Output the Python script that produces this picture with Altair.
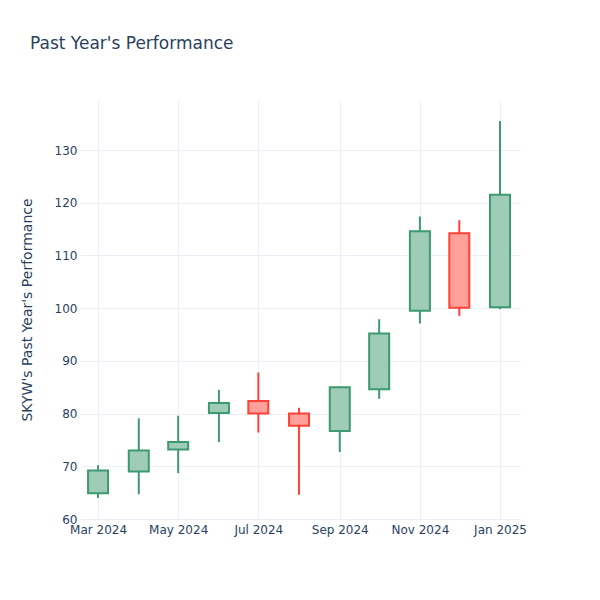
import altair as alt
import pandas as pd

dates = ["2024-03-01", "2024-04-01", "2024-05-01", "2024-06-01", "2024-07-01", "2024-08-01",
         "2024-09-01", "2024-10-01", "2024-11-01", "2024-12-01", "2025-01-01"]
opens = [64.9, 69.0, 73.2, 80.1, 82.4, 80.0, 76.7, 84.6, 99.5, 114.2, 100.2]
closes = [69.2, 73.0, 74.6, 82.0, 80.0, 77.7, 85.0, 95.2, 114.6, 100.1, 121.5]
highs = [70.2, 79.1, 79.6, 84.5, 87.8, 81.1, 85.1, 97.9, 117.4, 116.7, 135.5]
lows = [64.0, 64.7, 68.7, 74.6, 76.4, 64.6, 72.7, 82.8, 97.1, 98.5, 99.8]

df = pd.DataFrame({"date": dates, "open": opens, "close": closes, "high": highs, "low": lows})
df["dir"] = ["up" if c >= o else "down" for o, c in zip(opens, closes)]
df["bot"] = [min(o, c) for o, c in zip(opens, closes)]
df["top"] = [max(o, c) for o, c in zip(opens, closes)]

FONT = "DejaVu Sans"
TXT = "#2a3f5f"
GRID = "#EBF0F8"

tick_vals = [alt.DateTime(year=y, month=m, date=1, utc=True)
             for y, m in [(2024, 3), (2024, 5), (2024, 7), (2024, 9), (2024, 11), (2025, 1)]]

x = alt.X("date:T", title=None,
          scale=alt.Scale(type="utc", nice=False, padding=0,
                          domain=[alt.DateTime(year=2024, month=2, date=16, hours=6, utc=True),
                                  alt.DateTime(year=2025, month=1, date=16, hours=5, utc=True)]),
          axis=alt.Axis(values=tick_vals, labelExpr="utcFormat(datum.value, '%b %Y')",
                        labelFont=FONT, labelFontSize=12, labelColor=TXT, ticks=False,
                        domain=False, labelPadding=5, gridColor=GRID, gridWidth=1,
                        labelFlush=False))

ydom = alt.Scale(domain=[60, 139.5], nice=False, zero=False, padding=0)
yaxis = alt.Axis(values=[60, 70, 80, 90, 100, 110, 120, 130], labelFont=FONT, labelFontSize=12,
                 labelColor=TXT, ticks=False, domain=False, labelPadding=3, gridColor=GRID,
                 gridWidth=1, title="SKYW's Past Year's Performance", titleFont=FONT,
                 titleFontSize=14, titleColor=TXT, titleFontWeight="normal", titlePadding=20)

color_line = alt.Color("dir:N", scale=alt.Scale(domain=["up", "down"], range=["#3D9970", "#FF4136"]),
                       legend=None)

base = alt.Chart(df)

wick = base.mark_rule(strokeWidth=2).encode(
    x=x,
    y=alt.Y("low:Q", scale=ydom, axis=yaxis),
    y2="high:Q",
    color=color_line,
)

body = base.mark_bar(size=20, strokeWidth=2).encode(
    x=alt.X("date:T"),
    y=alt.Y("bot:Q"),
    y2="top:Q",
    fill=alt.Fill("dir:N", scale=alt.Scale(domain=["up", "down"], range=["#9ECCB7", "#FFA09A"]),
                  legend=None),
    stroke=alt.Stroke("dir:N", scale=alt.Scale(domain=["up", "down"], range=["#3D9970", "#FF4136"]),
                      legend=None),
)

title = alt.Chart(pd.DataFrame({"t": ["Past Year's Performance"]})).mark_text(
    align="left", baseline="middle", font=FONT, fontSize=17, color=TXT
).encode(text="t:N", x=alt.value(-50), y=alt.value(-56))

chart = alt.layer(wick, body, title).properties(
    width=440, height=419,
    background="white",
    autosize=alt.AutoSizeParams(type="none"),
    padding={"left": 72, "top": 92, "right": 72, "bottom": 73},
).configure_view(strokeWidth=0, stroke=None)

chart.save("out.html", embed_options={"renderer": "svg", "actions": False})
